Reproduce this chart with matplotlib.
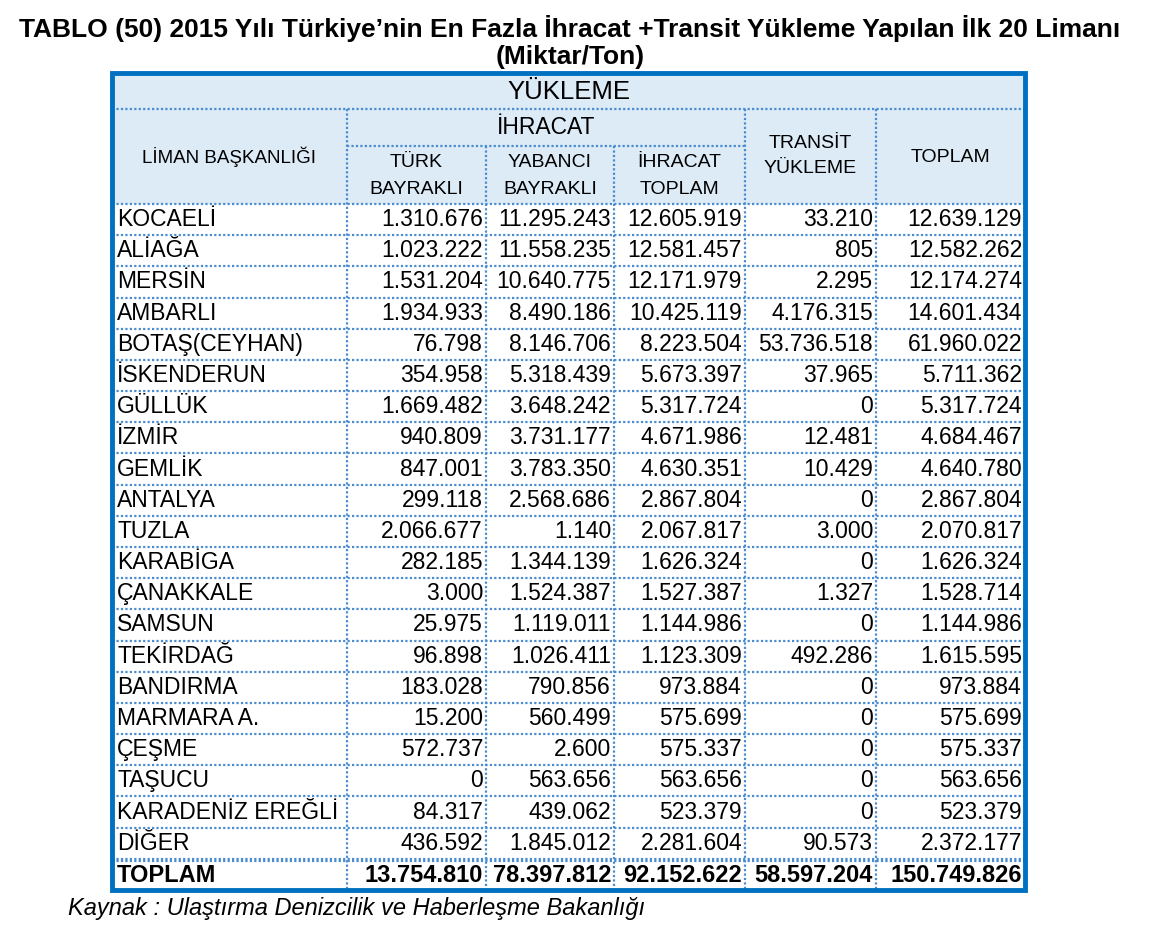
import matplotlib
matplotlib.use("Agg")
from matplotlib import pyplot as plt
from matplotlib.patches import Rectangle

plt.rcParams["font.family"] = ["Liberation Sans", "DejaVu Sans"]

# table data (tons)
ports = ["KOCAELİ", "ALİAĞA", "MERSİN", "AMBARLI", "BOTAŞ(CEYHAN)", "İSKENDERUN",
         "GÜLLÜK", "İZMİR", "GEMLİK", "ANTALYA", "TUZLA", "KARABİGA", "ÇANAKKALE",
         "SAMSUN", "TEKİRDAĞ", "BANDIRMA", "MARMARA A.", "ÇEŞME", "TAŞUCU",
         "KARADENİZ EREĞLİ", "DİĞER"]
turk_bayrakli = [1310676, 1023222, 1531204, 1934933, 76798, 354958, 1669482, 940809,
                 847001, 299118, 2066677, 282185, 3000, 25975, 96898, 183028, 15200,
                 572737, 0, 84317, 436592]
yabanci_bayrakli = [11295243, 11558235, 10640775, 8490186, 8146706, 5318439, 3648242,
                    3731177, 3783350, 2568686, 1140, 1344139, 1524387, 1119011, 1026411,
                    790856, 560499, 2600, 563656, 439062, 1845012]
ihracat_toplam = [12605919, 12581457, 12171979, 10425119, 8223504, 5673397, 5317724,
                  4671986, 4630351, 2867804, 2067817, 1626324, 1527387, 1144986, 1123309,
                  973884, 575699, 575337, 563656, 523379, 2281604]
transit = [33210, 805, 2295, 4176315, 53736518, 37965, 0, 12481, 10429, 0, 3000, 0,
           1327, 0, 492286, 0, 0, 0, 0, 0, 90573]
toplam = [12639129, 12582262, 12174274, 14601434, 61960022, 5711362, 5317724, 4684467,
          4640780, 2867804, 2070817, 1626324, 1528714, 1144986, 1615595, 973884, 575699,
          575337, 563656, 523379, 2372177]
total_row = [13754810, 78397812, 92152622, 58597204, 150749826]

title = ("TABLO (50) 2015 Yılı Türkiye’nin En Fazla İhracat +Transit Yükleme "
         "Yapılan İlk 20 Limanı\n(Miktar/Ton)")
source = "Kaynak : Ulaştırma Denizcilik ve Haberleşme Bakanlığı"


def fmt(v):
    return f"{v:,}".replace(",", ".")


fig = plt.figure(figsize=(11.52, 9.38), dpi=100)
ax = fig.add_axes([0, 0, 1, 1])
ax.set_xlim(0, 1152)
ax.set_ylim(938, 0)
ax.axis("off")

blue = "#0070C0"
dot = "#4A8CD0"
head_bg = "#DDEBF7"

cols = [112, 347, 486, 614, 745, 876, 1025]
top, h1, h2, h3 = 73, 109, 146, 204
bottom = 890
n_rows = len(ports) + 1
row_h = (bottom - h3) / n_rows

# header background
ax.add_patch(Rectangle((cols[0], top), cols[-1] - cols[0], h3 - top,
                       facecolor=head_bg, edgecolor="none", zorder=0))

dotted = dict(color=dot, lw=1.6, ls=(0, (1, 1)), zorder=2)
# horizontal lines
ax.plot([cols[0], cols[-1]], [h1, h1], **dotted)
ax.plot([cols[1], cols[4]], [h2, h2], **dotted)
for i in range(n_rows):
    y = h3 + i * row_h
    ax.plot([cols[0], cols[-1]], [y, y], **dotted)
ytot = h3 + (n_rows - 1) * row_h
ax.plot([cols[0], cols[-1]], [ytot + 2.5, ytot + 2.5], **dotted)
# vertical lines
ax.plot([cols[1], cols[1]], [h1, bottom], **dotted)
for c in cols[2:4]:
    ax.plot([c, c], [h2, bottom], **dotted)
for c in cols[4:6]:
    ax.plot([c, c], [h1, bottom], **dotted)

# outer border
ax.add_patch(Rectangle((cols[0], top), cols[-1] - cols[0], bottom - top,
                       facecolor="none", edgecolor=blue, lw=3.5, zorder=3))

# title and headers
ax.text(570, 42, title, ha="center", va="center", fontsize=19,
        fontweight="bold", linespacing=1.12)
ax.text((cols[0] + cols[-1]) / 2, 92, "YÜKLEME", ha="center", va="center", fontsize=18.5)
ax.text((cols[1] + cols[4]) / 2, 128, "İHRACAT", ha="center", va="center", fontsize=16.5)
ax.text((cols[0] + cols[1]) / 2, 157, "LİMAN BAŞKANLIĞI", ha="center", va="center",
        fontsize=13.5)
sub = ["TÜRK\nBAYRAKLI", "YABANCI\nBAYRAKLI", "İHRACAT\nTOPLAM"]
for i, s in enumerate(sub):
    ax.text((cols[i + 1] + cols[i + 2]) / 2, 176, s, ha="center", va="center",
            fontsize=14, linespacing=1.7)
ax.text((cols[4] + cols[5]) / 2, 156, "TRANSİT\nYÜKLEME", ha="center", va="center",
        fontsize=14, linespacing=1.55)
ax.text((cols[5] + cols[6]) / 2, 157, "TOPLAM", ha="center", va="center", fontsize=14)

# body
for i, name in enumerate(ports):
    y = h3 + (i + 0.5) * row_h
    ax.text(cols[0] + 5, y, name, ha="left", va="center", fontsize=16.5)
    vals = [turk_bayrakli[i], yabanci_bayrakli[i], ihracat_toplam[i], transit[i], toplam[i]]
    for j, v in enumerate(vals):
        ax.text(cols[j + 2] - 3, y, fmt(v), ha="right", va="center", fontsize=16.5)

y = h3 + (n_rows - 0.5) * row_h + 1
ax.text(cols[0] + 5, y, "TOPLAM", ha="left", va="center", fontsize=17, fontweight="bold")
for j, v in enumerate(total_row):
    ax.text(cols[j + 2] - 3, y, fmt(v), ha="right", va="center", fontsize=17,
            fontweight="bold")

ax.text(68, 908, source, ha="left", va="center", fontsize=17, style="italic")

fig.savefig("out.png", dpi=100)
